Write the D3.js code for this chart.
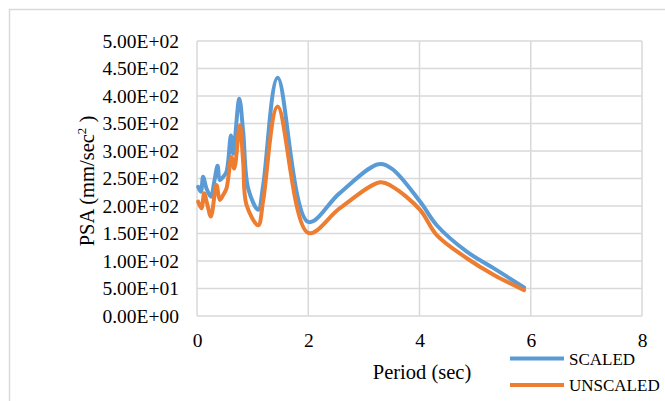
<!DOCTYPE html>
<html>
<head>
<meta charset="utf-8">
<script src="https://cdn.jsdelivr.net/npm/d3@7"></script>
<style>
  body { margin: 0; background: #fff; }
  svg { display: block; }
</style>
</head>
<body>
<div id="chart"></div>
<script>
document.addEventListener('DOMContentLoaded', function() {
    // period (sec) and PSA (mm/sec^2)
    const scaledPeriod = [0.02, 0.07, 0.11, 0.17, 0.25, 0.31, 0.37, 0.41, 0.47, 0.53, 0.61, 0.65, 0.76, 0.83, 0.92, 1.10, 1.19, 1.45, 2.0, 2.56, 3.26, 3.5, 4.01, 4.31, 4.85, 5.33, 5.88];
    const scaledPSA   = [235, 226, 253, 232, 217, 244, 273, 247, 253, 262, 328, 295, 395, 335, 232, 193, 238, 433, 171, 223, 276, 268, 208, 165, 117, 87, 52];
    const unscaledPeriod = [0.02, 0.08, 0.13, 0.18, 0.25, 0.35, 0.41, 0.47, 0.53, 0.62, 0.67, 0.77, 0.83, 0.89, 1.10, 1.19, 1.45, 2.0, 2.57, 3.29, 3.5, 4.01, 4.31, 4.85, 5.33, 5.88];
    const unscaledPSA    = [208, 196, 223, 205, 181, 238, 211, 220, 232, 289, 268, 347, 280, 202, 165, 210, 381, 151, 196, 243, 236, 193, 147, 105, 75, 47];

    const xTicks = [0, 2, 4, 6, 8];
    const yTicks = [0, 50, 100, 150, 200, 250, 300, 350, 400, 450, 500];
    const seriesNames = ["SCALED", "UNSCALED"];
    const seriesColors = ["#5b9bd5", "#ed7d31"];

    const series = [
        { name: seriesNames[0], color: seriesColors[0], values: scaledPeriod.map((p, i) => ({ x: p, y: scaledPSA[i] })) },
        { name: seriesNames[1], color: seriesColors[1], values: unscaledPeriod.map((p, i) => ({ x: p, y: unscaledPSA[i] })) }
    ];

    const W = 665, H = 401;
    const margin = { top: 41, right: 23, bottom: 85, left: 197 };
    const width = W - margin.left - margin.right;
    const height = H - margin.top - margin.bottom;
    const serif = "'Liberation Serif', 'Times New Roman', serif";

    const root = d3.select("#chart").append("svg")
        .attr("width", W)
        .attr("height", H)
        .style("font-family", serif);

    // outer chart border
    root.append("rect")
        .attr("x", 9.5).attr("y", 9.5)
        .attr("width", W + 10).attr("height", H + 10)
        .attr("fill", "none")
        .attr("stroke", "#d9d9d9")
        .attr("stroke-width", 1.5);

    const svg = root.append("g")
        .attr("transform", `translate(${margin.left},${margin.top})`);

    const x = d3.scaleLinear().domain([0, 8]).range([0, width]);
    const y = d3.scaleLinear().domain([0, 500]).range([height, 0]);

    // gridlines
    svg.append("g").selectAll("line")
        .data(yTicks)
        .enter().append("line")
        .attr("x1", 0).attr("x2", width)
        .attr("y1", d => y(d)).attr("y2", d => y(d))
        .attr("stroke", "#d9d9d9").attr("stroke-width", 1.5);

    svg.append("g").selectAll("line")
        .data(xTicks)
        .enter().append("line")
        .attr("y1", 0).attr("y2", height)
        .attr("x1", d => x(d)).attr("x2", d => x(d))
        .attr("stroke", "#d9d9d9").attr("stroke-width", 1.5);

    // axes (labels only)
    const yAxis = svg.append("g")
        .call(d3.axisLeft(y).tickValues(yTicks).tickSize(0).tickPadding(18)
            .tickFormat(d => d.toExponential(2).replace("e+", "E+0").replace("e-", "E-0")));
    yAxis.select(".domain").remove();
    yAxis.selectAll("text")
        .attr("font-family", serif)
        .attr("font-size", 19.5).attr("fill", "#000");

    const xAxis = svg.append("g")
        .attr("transform", `translate(0,${height})`)
        .call(d3.axisBottom(x).tickValues(xTicks).tickSize(0).tickPadding(17));
    xAxis.select(".domain").remove();
    xAxis.selectAll("text")
        .attr("font-family", serif)
        .attr("font-size", 19.5).attr("fill", "#000");

    // lines
    const line = d3.line()
        .x(d => x(d.x))
        .y(d => y(d.y))
        .curve(d3.curveCatmullRom.alpha(0.5));

    svg.selectAll(".series")
        .data(series)
        .enter().append("path")
        .attr("class", "series")
        .attr("d", d => line(d.values))
        .attr("fill", "none")
        .attr("stroke", d => d.color)
        .attr("stroke-width", 4)
        .attr("stroke-linejoin", "round")
        .attr("stroke-linecap", "round");

    // axis titles
    root.append("text")
        .attr("x", 422).attr("y", 379)
        .attr("text-anchor", "middle")
        .attr("font-size", 20.5)
        .text("Period (sec)");

    const yTitle = root.append("text")
        .attr("transform", "translate(94,181) rotate(-90)")
        .attr("text-anchor", "middle")
        .attr("font-size", 20.5);
    yTitle.append("tspan").text("PSA (mm/sec");
    yTitle.append("tspan").attr("font-size", 13).attr("dy", -8).text("2");
    yTitle.append("tspan").attr("dy", 8).text(" )");

    // legend
    const legend = root.append("g")
        .attr("transform", "translate(510,358.5)");
    const items = legend.selectAll("g")
        .data(series)
        .enter().append("g")
        .attr("transform", (d, i) => `translate(0,${i * 26.5})`);
    items.append("line")
        .attr("x1", 0).attr("x2", 54)
        .attr("stroke", d => d.color)
        .attr("stroke-width", 4);
    items.append("text")
        .attr("x", 59).attr("y", 6)
        .attr("font-size", 17)
        .text(d => d.name);
});
</script>
</body>
</html>
